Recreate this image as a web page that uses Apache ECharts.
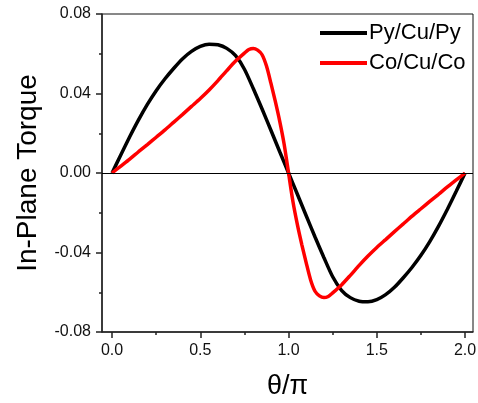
<!DOCTYPE html>
<html>
<head>
<meta charset="utf-8">
<title>In-Plane Torque</title>
<script src="https://cdn.jsdelivr.net/npm/echarts@6/dist/echarts.min.js"></script>
<style>
	html, body { margin: 0; padding: 0; background: #fff; }
	#chart { width: 478px; height: 403px; }
</style>
</head>
<body>
<div id="chart"></div>
<script>
// 横轴刻度
var xTickValues = [0, 0.5, 1.0, 1.5, 2.0];
var xMinorValues = [0.25, 0.75, 1.25, 1.75];

// Py/Cu/Py 曲线
var thetaPy = [0, 0.05, 0.1, 0.15, 0.2, 0.25, 0.3, 0.35, 0.4, 0.45, 0.5, 0.55, 0.6, 0.65, 0.7, 0.75, 0.8, 0.85, 0.9, 0.95,
	1.0, 1.05, 1.1, 1.15, 1.2, 1.25, 1.3, 1.35, 1.4, 1.45, 1.5, 1.55, 1.6, 1.65, 1.7, 1.75, 1.8, 1.85, 1.9, 1.95, 2.0];
var torquePy = [0, 0.0092, 0.0182, 0.0267, 0.0345, 0.0414, 0.0474, 0.0527, 0.0575, 0.0612, 0.0637, 0.0648, 0.0645, 0.0627, 0.059, 0.0522, 0.0425, 0.0322, 0.0215, 0.0107,
	0, -0.0107, -0.0215, -0.0322, -0.0425, -0.0522, -0.059, -0.0627, -0.0645, -0.0648, -0.0637, -0.0612, -0.0575, -0.0527, -0.0474, -0.0414, -0.0345, -0.0267, -0.0182, -0.0092, 0];

// Co/Cu/Co 曲线
var thetaCo = [0, 0.05, 0.1, 0.15, 0.2, 0.25, 0.3, 0.35, 0.4, 0.45, 0.5, 0.55, 0.6, 0.65, 0.7, 0.75, 0.775, 0.8, 0.825, 0.85, 0.875, 0.9, 0.925, 0.95, 0.975,
	1.0, 1.025, 1.05, 1.075, 1.1, 1.125, 1.15, 1.175, 1.2, 1.225, 1.25, 1.3, 1.35, 1.4, 1.45, 1.5, 1.55, 1.6, 1.65, 1.7, 1.75, 1.8, 1.85, 1.9, 1.95, 2.0];
var torqueCo = [0, 0.0035, 0.007, 0.0107, 0.0143, 0.018, 0.0217, 0.0256, 0.0295, 0.0335, 0.0375, 0.0418, 0.0465, 0.0515, 0.0563, 0.0603, 0.0621, 0.0627, 0.0618, 0.0595, 0.0538, 0.0452, 0.036, 0.026, 0.0145,
	0, -0.0145, -0.026, -0.036, -0.0452, -0.0538, -0.0595, -0.0618, -0.0627, -0.0621, -0.0603, -0.0563, -0.0515, -0.0465, -0.0418, -0.0375, -0.0335, -0.0295, -0.0256, -0.0217, -0.018, -0.0143, -0.0107, -0.007, -0.0035, 0];

function toPairs(xs, ys) {
	var arr = [];
	for (var i = 0; i < xs.length; i++) {
		arr.push([xs[i], ys[i]]);
	}
	return arr;
}

var fontName = 'Liberation Sans, Arial, sans-serif';
var axisColor = '#222';

var option = {
	animation: false,
	textStyle: { fontFamily: fontName },
	grid: {
		left: 102,
		right: 5,
		top: 14,
		bottom: 71,
		outerBoundsMode: 'none',
		containLabel: false,
		show: true,
		borderColor: '#111',
		borderWidth: 1
	},
	legend: {
		orient: 'vertical',
		left: 320,
		top: 22,
		padding: 0,
		icon: 'rect',
		itemWidth: 47,
		itemHeight: 4,
		itemGap: 8,
		textStyle: { fontSize: 22, color: '#000', fontFamily: fontName, padding: [0, 0, 0, -3] },
		data: ['Py/Cu/Py', 'Co/Cu/Co']
	},
	xAxis: [{
		type: 'value',
		min: -0.057,
		max: 2.045,
		name: 'θ/π',
		nameLocation: 'middle',
		nameGap: 41,
		nameTextStyle: { fontSize: 27, color: '#000', fontFamily: fontName },
		axisLine: { show: true, onZero: false, lineStyle: { color: axisColor, width: 1.5 } },
		axisTick: { show: true, inside: false, length: 6, customValues: xTickValues, lineStyle: { color: axisColor, width: 1.5 } },
		axisLabel: {
			customValues: xTickValues,
			fontSize: 16,
			color: '#111',
			margin: 11,
			formatter: function (v) { return v.toFixed(1); }
		},
		splitLine: { show: false }
	}, {
		// 次刻度
		type: 'value',
		position: 'bottom',
		min: -0.057,
		max: 2.045,
		axisLine: { show: false, onZero: false },
		axisTick: { show: true, inside: false, length: 3, customValues: xMinorValues, lineStyle: { color: axisColor, width: 1.5 } },
		axisLabel: { show: false },
		splitLine: { show: false }
	}],
	yAxis: {
		type: 'value',
		min: -0.08,
		max: 0.08,
		interval: 0.04,
		name: 'In-Plane Torque',
		nameLocation: 'middle',
		nameGap: 60,
		nameTextStyle: { fontSize: 28, color: '#000', fontFamily: fontName },
		axisLine: { show: true, onZero: false, lineStyle: { color: axisColor, width: 1.5 } },
		axisTick: { show: true, inside: false, length: 6, lineStyle: { color: axisColor, width: 1.5 } },
		minorTick: { show: true, splitNumber: 2, length: 3, lineStyle: { color: axisColor, width: 1.5 } },
		axisLabel: {
			fontSize: 16,
			color: '#111',
			margin: 11,
			formatter: function (v) { return v.toFixed(2); }
		},
		splitLine: { show: false },
		minorSplitLine: { show: false }
	},
	series: [{
		name: 'Py/Cu/Py',
		type: 'line',
		xAxisIndex: 0,
		showSymbol: false,
		symbol: 'none',
		smooth: 0.25,
		lineStyle: { color: '#000', width: 3.5 },
		itemStyle: { color: '#000' },
		data: toPairs(thetaPy, torquePy),
		markLine: {
			silent: true,
			symbol: ['none', 'none'],
			label: { show: false },
			lineStyle: { color: '#000', width: 1, type: 'solid' },
			data: [{ yAxis: 0 }]
		}
	}, {
		name: 'Co/Cu/Co',
		type: 'line',
		xAxisIndex: 0,
		showSymbol: false,
		symbol: 'none',
		smooth: 0.25,
		lineStyle: { color: '#ff0000', width: 3.5 },
		itemStyle: { color: '#ff0000' },
		data: toPairs(thetaCo, torqueCo)
	}]
};

var chart = echarts.init(document.getElementById('chart'));
chart.setOption(option);
</script>
</body>
</html>
